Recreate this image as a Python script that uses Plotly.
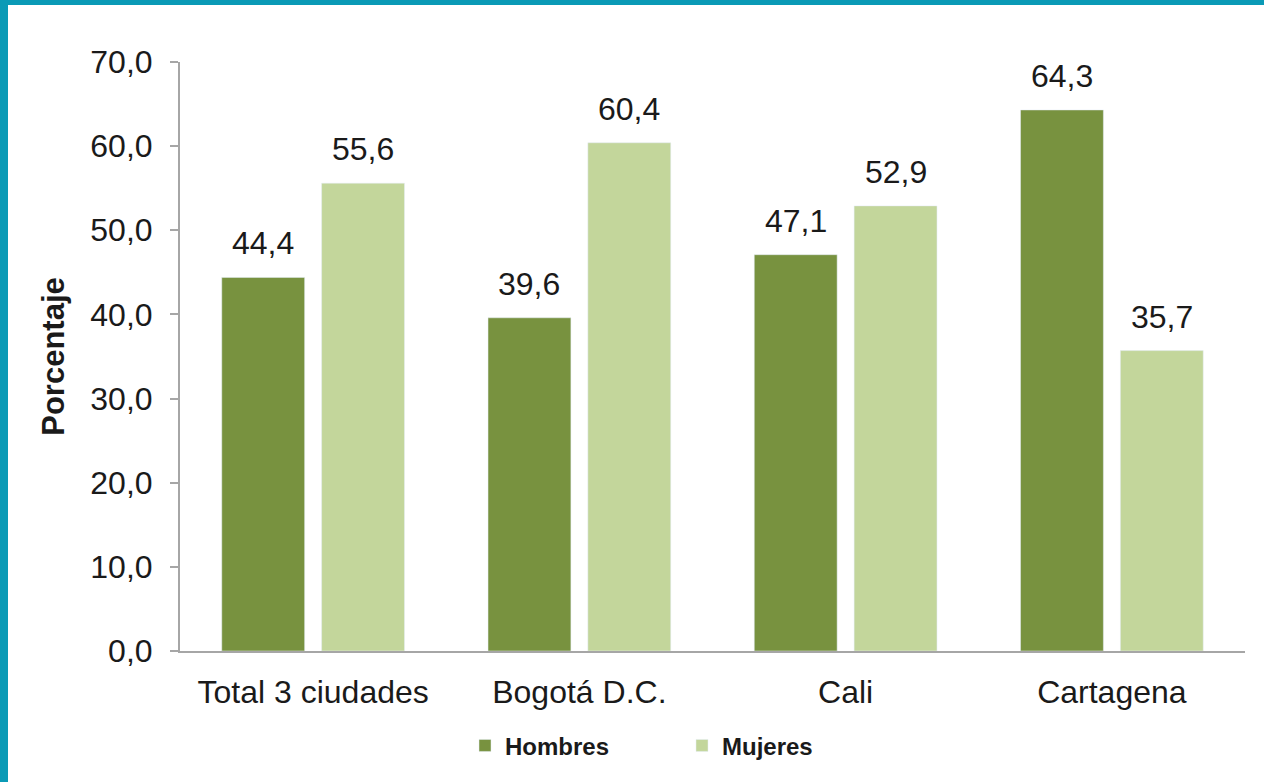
import plotly.graph_objects as go

ciudades = ['Total 3 ciudades', 'Bogotá D.C.', 'Cali', 'Cartagena']
hombres = [44.4, 39.6, 47.1, 64.3]
mujeres = [55.6, 60.4, 52.9, 35.7]

verde_osc = '#78923F'
verde_cla = '#C3D69B'
teal = '#0A9AB6'
txt = '#1A1A1A'

fig = go.Figure()
fig.add_trace(go.Bar(x=ciudades, y=hombres, name='<b>Hombres</b>', marker_color=verde_osc))
fig.add_trace(go.Bar(x=ciudades, y=mujeres, name='<b>Mujeres</b>', marker_color=verde_cla))

# etiquetas de valor encima de cada barra
for c, h, m in zip(ciudades, hombres, mujeres):
    for val, dx in ((h, -50), (m, 50)):
        fig.add_annotation(x=c, y=val, xshift=dx, yshift=14, yanchor='bottom',
                           text=f'{val:.1f}'.replace('.', ','), showarrow=False,
                           font=dict(size=32, color=txt))

fig.update_layout(
    width=1264, height=782,
    margin=dict(l=180, r=19, t=62, b=131),
    paper_bgcolor='white', plot_bgcolor='white',
    font=dict(family='Liberation Sans, Arial, sans-serif', color=txt, size=32),
    separators=',.',
    barmode='group', bargap=0.25, bargroupgap=0.17,
    showlegend=True,
    legend=dict(orientation='h', x=(465 - 180) / 1065, xanchor='left', y=-0.161, yanchor='middle',
                font=dict(size=24, color=txt), entrywidth=172, tracegroupgap=0),
    shapes=[
        dict(type='rect', xref='paper', yref='paper', x0=-0.2, x1=(8 - 180) / 1065,
             y0=-0.3, y1=1.2, fillcolor=teal, line_width=0, layer='above'),
        dict(type='rect', xref='paper', yref='paper', x0=-0.2, x1=1.1,
             y0=(651 - 5) / 589, y1=1.2, fillcolor=teal, line_width=0, layer='above'),
    ],
)

fig.update_yaxes(range=[0, 70], dtick=10, tickformat='.1f', showgrid=False,
                 showline=True, linecolor='#A6A6A6', linewidth=2,
                 ticks='outside', ticklen=8, tickcolor='#A6A6A6', tickwidth=2,
                 ticklabelstandoff=11, zeroline=False,
                 title=dict(text='<b>Porcentaje</b>', font=dict(size=31), standoff=16))
fig.update_xaxes(showline=True, linecolor='#A6A6A6', linewidth=2, ticks='',
                 showgrid=False, tickfont=dict(size=32), ticklabelstandoff=12)

fig.write_html('out.html', config={'displayModeBar': False},
               post_script="document.body.style.margin='0';")
